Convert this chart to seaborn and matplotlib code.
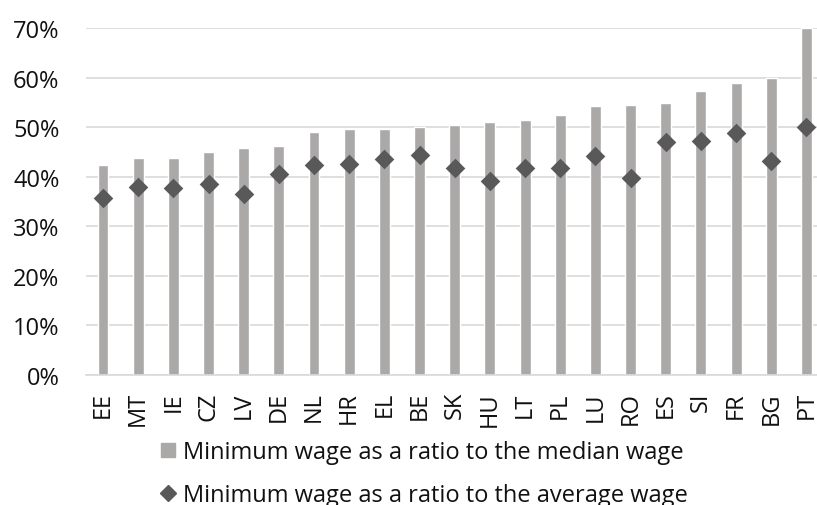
import pandas as pd
import matplotlib
matplotlib.use("Agg")
import matplotlib.pyplot as plt
from matplotlib.lines import Line2D
from matplotlib.ticker import PercentFormatter
import seaborn as sns

# Data
countries = ['EE', 'MT', 'IE', 'CZ', 'LV', 'DE', 'NL', 'HR', 'EL', 'BE', 'SK',
             'HU', 'LT', 'PL', 'LU', 'RO', 'ES', 'SI', 'FR', 'BG', 'PT']
ratio_median = [42.4, 43.7, 43.7, 45.1, 45.8, 46.2, 49.0, 49.7, 49.7, 50.1, 50.4,
                51.1, 51.5, 52.4, 54.3, 54.5, 55.0, 57.4, 59.0, 59.9, 70.0]
ratio_average = [35.8, 38.0, 37.7, 38.5, 36.5, 40.6, 42.3, 42.5, 43.6, 44.5, 41.8,
                 39.1, 41.8, 41.8, 44.3, 39.8, 47.1, 47.3, 48.9, 43.1, 50.0]
legend_labels = ['Minimum wage as a ratio to the median wage',
                 'Minimum wage as a ratio to the average wage']

bar_color = '#ABA8A8'
dot_color = '#595959'
grid_color = '#D9D9D9'

df = pd.DataFrame({'country': countries,
                   'median': [v / 100 for v in ratio_median],
                   'average': [v / 100 for v in ratio_average]})

sns.set_style('white')
plt.rcParams['font.family'] = ['Open Sans', 'DejaVu Sans']

fig = plt.figure(figsize=(8.17, 5.06), dpi=100)
ax = fig.add_axes([0.105, 0.2579, 0.895, 0.6838])

sns.barplot(data=df, x='country', y='median', color=bar_color, width=0.31,
            saturation=1, ax=ax, zorder=2)
sns.stripplot(data=df, x='country', y='average', color=dot_color, marker='D',
              size=10, jitter=False, linewidth=0, ax=ax, zorder=3)

ax.set_xlim(-0.49, 20.3)
ax.set_ylim(0, 0.70)
ax.set_yticks([i / 10 for i in range(8)])
ax.yaxis.set_major_formatter(PercentFormatter(1.0, decimals=0))
ax.grid(axis='y', color=grid_color, linewidth=1.2, zorder=0)
ax.set_axisbelow(True)
for side in ['top', 'right', 'left']:
    ax.spines[side].set_visible(False)
ax.spines['bottom'].set_color(grid_color)
ax.spines['bottom'].set_linewidth(1.2)
ax.set_xlabel('')
ax.set_ylabel('')
ax.tick_params(axis='y', length=0, pad=19, labelsize=17, labelcolor='#111111')
ax.tick_params(axis='x', length=0, pad=12, labelsize=17, labelcolor='#111111',
               labelrotation=90)

handles = [Line2D([], [], marker='s', linestyle='none', color=bar_color, markersize=10),
           Line2D([], [], marker='D', linestyle='none', color=dot_color, markersize=8.5)]
fig.legend(handles, legend_labels, loc='center', bbox_to_anchor=(0.519, 0.062),
           frameon=False, fontsize=17, labelspacing=0.8, handlelength=0.7,
           handletextpad=0.3, labelcolor='#111111')

fig.savefig('out.png', dpi=100)
